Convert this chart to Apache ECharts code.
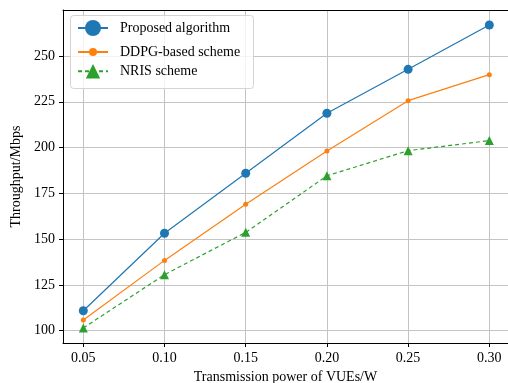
<!DOCTYPE html>
<html>
<head>
<meta charset="utf-8">
<script src="https://cdn.jsdelivr.net/npm/echarts@6/dist/echarts.min.js"></script>
<style>html,body{margin:0;padding:0;background:#fff}#c{width:508px;height:383px}</style>
</head>
<body>
<div id="c"></div>
<script>
const xValues = [0.05, 0.10, 0.15, 0.20, 0.25, 0.30];
const proposed = [110.9, 153.2, 186.0, 218.7, 242.7, 266.9];
const ddpg = [105.8, 138.4, 169.0, 198.1, 225.6, 239.8];
const nris = [101.5, 130.6, 153.7, 184.6, 198.3, 203.8];
const xTicks = [0.05, 0.10, 0.15, 0.20, 0.25, 0.30];
const yTicks = [100, 125, 150, 175, 200, 225, 250];
const seriesNames = ['Proposed algorithm', 'DDPG-based scheme', 'NRIS scheme'];

const FONT = '"Liberation Serif", "DejaVu Serif", serif';
const pair = (arr) => xValues.map((x, i) => [x, arr[i]]);

const chart = echarts.init(document.getElementById('c'), null, {renderer: 'canvas'});
const legendBase = {
  orient: 'vertical', left: 77, padding: 0, itemWidth: 30, itemGap: 0,
  textStyle: {fontFamily: FONT, fontSize: 14, color: '#000', padding: [0, 0, 0, 7]},
  z: 10, selectedMode: false
};
chart.setOption({
  animation: false,
  backgroundColor: '#fff',
  grid: {left: 63, top: 10, right: 0, bottom: 40, show: false,
    outerBoundsMode: 'none', containLabel: false},
  graphic: [{
    type: 'rect', left: 70, top: 15, z: 5,
    shape: {width: 183, height: 73, r: 3},
    style: {fill: 'rgba(255,255,255,0.8)', stroke: '#d4d4d4', lineWidth: 1}
  }],
  legend: [
    Object.assign({}, legendBase, {top: 20, itemHeight: 20, data: [seriesNames[0]]}),
    Object.assign({}, legendBase, {top: 45, itemHeight: 10, data: [seriesNames[1]]}),
    Object.assign({}, legendBase, {top: 64, itemHeight: 18, data: [seriesNames[2]]})
  ],
  xAxis: [{
    type: 'value', min: 0.0375, max: 0.3115, position: 'bottom',
    name: 'Transmission power of VUEs/W', nameLocation: 'middle', nameGap: 27,
    nameTextStyle: {fontFamily: FONT, fontSize: 14, color: '#000'},
    axisLine: {show: true, onZero: false, lineStyle: {color: '#000', width: 1}},
    axisTick: {show: true, inside: false, length: 4, lineStyle: {color: '#000'}, customValues: xTicks},
    axisLabel: {fontFamily: FONT, fontSize: 14, color: '#000', margin: 8, customValues: xTicks,
      formatter: v => v.toFixed(2)},
    splitLine: {show: true, lineStyle: {color: '#c4c4c4', width: 1}}
  }, {
    type: 'value', min: 0.0375, max: 0.3115, position: 'top',
    axisLine: {show: true, onZero: false, lineStyle: {color: '#000', width: 1}},
    axisTick: {show: false}, axisLabel: {show: false}, splitLine: {show: false}
  }],
  yAxis: {
    type: 'value', min: 93.3, max: 275.1,
    name: 'Throughput/Mbps', nameLocation: 'middle', nameGap: 38, nameRotate: 90,
    nameTextStyle: {fontFamily: FONT, fontSize: 14, color: '#000'},
    axisLine: {show: true, onZero: false, lineStyle: {color: '#000', width: 1}},
    axisTick: {show: true, inside: false, length: 4, lineStyle: {color: '#000'}, customValues: yTicks},
    axisLabel: {fontFamily: FONT, fontSize: 14, color: '#000', margin: 8, customValues: yTicks},
    splitLine: {show: true, lineStyle: {color: '#c4c4c4', width: 1}}
  },
  series: [
    {name: seriesNames[0], type: 'line', data: pair(proposed), symbol: 'circle', symbolSize: 9,
      color: '#1f77b4', lineStyle: {width: 1.2, color: '#1f77b4'}, itemStyle: {color: '#1f77b4'}, z: 4},
    {name: seriesNames[1], type: 'line', data: pair(ddpg), symbol: 'circle', symbolSize: 5,
      color: '#ff7f0e', lineStyle: {width: 1.2, color: '#ff7f0e'}, itemStyle: {color: '#ff7f0e'}, z: 3},
    {name: seriesNames[2], type: 'line', data: pair(nris), symbol: 'triangle', symbolSize: 9,
      color: '#2ca02c', lineStyle: {width: 1.2, color: '#2ca02c', type: [4, 3]}, itemStyle: {color: '#2ca02c'}, z: 2}
  ]
});
</script>
</body>
</html>
